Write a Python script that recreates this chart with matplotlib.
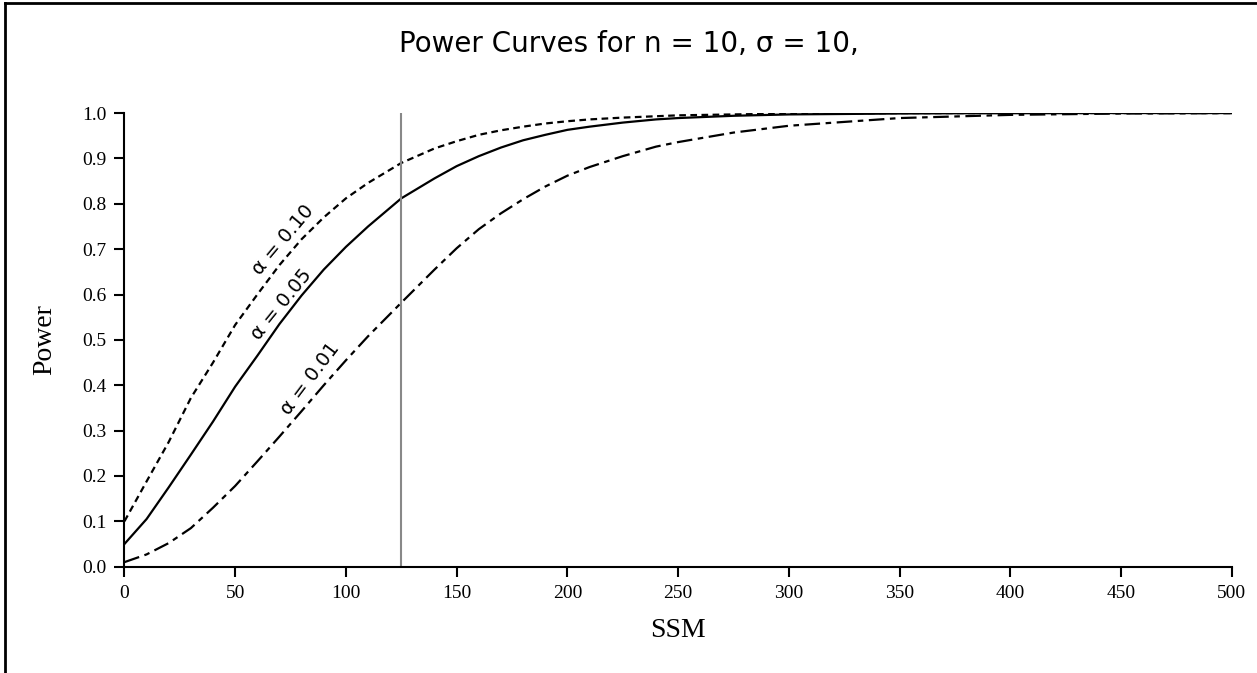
import matplotlib
matplotlib.use("Agg")
import matplotlib.pyplot as plt
from matplotlib.lines import Line2D

ssm = [0, 10, 20, 30, 40, 50, 60, 70, 80, 90, 100, 110, 125, 140, 150, 160, 170,
       180, 190, 200, 210, 225, 240, 250, 275, 300, 350, 400, 450, 500]

# power for alpha = 0.10 (short dashes)
power_10 = [0.100, 0.188, 0.275, 0.372, 0.450, 0.533, 0.600, 0.665, 0.722, 0.770,
            0.812, 0.846, 0.890, 0.922, 0.938, 0.952, 0.962, 0.970, 0.977, 0.982,
            0.986, 0.990, 0.993, 0.995, 0.997, 0.999, 1.0, 1.0, 1.0, 1.0]

# power for alpha = 0.05 (solid)
power_05 = [0.050, 0.105, 0.175, 0.247, 0.320, 0.397, 0.465, 0.535, 0.598, 0.655,
            0.705, 0.750, 0.812, 0.856, 0.883, 0.905, 0.924, 0.940, 0.952, 0.963,
            0.970, 0.979, 0.986, 0.989, 0.994, 0.997, 0.999, 1.0, 1.0, 1.0]

# power for alpha = 0.01 (long/short dashes)
power_01 = [0.010, 0.027, 0.052, 0.085, 0.130, 0.178, 0.232, 0.287, 0.343, 0.400,
            0.455, 0.508, 0.582, 0.655, 0.702, 0.744, 0.779, 0.810, 0.838, 0.862,
            0.881, 0.905, 0.926, 0.936, 0.957, 0.972, 0.989, 0.996, 0.999, 1.0]

ssm_marker = 125
x_ticks = list(range(0, 501, 50))
y_ticks = [i / 10 for i in range(11)]

fig = plt.figure(figsize=(12.57, 6.73), dpi=100)
ax = fig.add_axes([0.099, 0.158, 0.881, 0.674])

ax.plot(ssm, power_10, color="black", lw=1.6, linestyle=(0, (3, 2)))
ax.plot(ssm, power_05, color="black", lw=1.6)
ax.plot(ssm, power_01, color="black", lw=1.6, linestyle=(0, (7, 2.5, 2.5, 2.5)))
ax.plot([ssm_marker, ssm_marker], [0, 1], color="#888888", lw=1.5)

ax.set_xlim(0, 500)
ax.set_ylim(0, 1.0)
ax.set_xticks(x_ticks)
ax.set_yticks(y_ticks)
ax.set_yticklabels([f"{v:.1f}" for v in y_ticks])
ax.spines["top"].set_visible(False)
ax.spines["right"].set_visible(False)
ax.spines["left"].set_linewidth(1.5)
ax.spines["bottom"].set_linewidth(1.5)
ax.tick_params(direction="out", length=7, width=1.5, labelsize=14, pad=6)
for lab in ax.get_xticklabels() + ax.get_yticklabels():
    lab.set_family("Liberation Serif")

ax.set_xlabel("SSM", family="Liberation Serif", fontsize=20, labelpad=12)
ax.set_ylabel("Power", family="Liberation Serif", fontsize=20, labelpad=18)

lab_kw = dict(fontsize=14, ha="center", va="center", family="DejaVu Sans")
ax.text(71.8, 0.72, "α = 0.10", rotation=50, **lab_kw)
ax.text(71.1, 0.577, "α = 0.05", rotation=51, **lab_kw)
ax.text(83.9, 0.415, "α = 0.01", rotation=53, **lab_kw)

fig.text(0.5, 0.935, "Power Curves for n = 10, σ = 10,", ha="center", va="center",
         fontsize=20, family="DejaVu Sans")

# frame on the left and top edge
fig.add_artist(Line2D([0.004, 0.004], [0, 0.996], transform=fig.transFigure, color="black", lw=2))
fig.add_artist(Line2D([0.004, 1], [0.996, 0.996], transform=fig.transFigure, color="black", lw=2))

fig.savefig("out.png", dpi=100)
